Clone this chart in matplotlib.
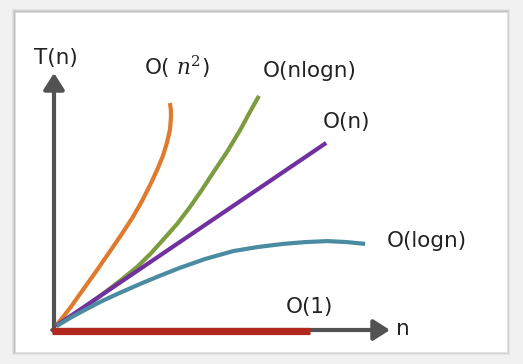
import matplotlib.pyplot as plt
from matplotlib.patches import Rectangle

plt.rcParams["mathtext.fontset"] = "dejavuserif"

# curve points (n on x, T(n) on y, axis arrows end at 10)
n2_x = [0.06, 0.48, 0.86, 1.28, 1.67, 2.02, 2.35, 2.62, 2.86, 3.07, 3.24, 3.36, 3.45, 3.48, 3.48, 3.45]
n2_y = [0.16, 0.86, 1.56, 2.33, 3.07, 3.74, 4.40, 5.02, 5.64, 6.23, 6.77, 7.28, 7.78, 8.25, 8.56, 8.83]

nlogn_x = [0.06, 0.71, 1.37, 1.96, 2.47, 2.89, 3.24, 3.66, 4.05, 4.40, 4.73, 5.15, 5.54, 5.83, 6.10]
nlogn_y = [0.16, 0.70, 1.32, 1.91, 2.45, 2.99, 3.50, 4.12, 4.79, 5.45, 6.11, 6.93, 7.78, 8.48, 9.11]

lin_x = [0.06, 8.10]
lin_y = [0.16, 7.28]

logn_x = [0.09, 0.48, 0.86, 1.37, 1.88, 2.56, 3.15, 3.75, 4.49, 5.33, 6.07, 6.82, 7.47, 8.13, 8.72, 9.26]
logn_y = [0.16, 0.47, 0.74, 1.09, 1.40, 1.79, 2.11, 2.42, 2.76, 3.07, 3.23, 3.35, 3.42, 3.46, 3.42, 3.35]

const_x = [-0.06, 7.62]
const_y = [-0.04, -0.04]

labels = ["T(n)", r"O( $n^2$)", "O(nlogn)", "O(n)", "O(logn)", "O(1)", "n"]
label_x = [0.07, 3.66, 7.60, 8.72, 11.09, 7.59, 10.39]
label_y = [10.35, 9.92, 9.84, 7.86, 3.23, 0.66, -0.19]

fig = plt.figure(figsize=(5.23, 3.64), dpi=100)
fig.patch.set_facecolor("#f1f1f1")

# card with a soft shadow
for i, a in enumerate([0.05, 0.07, 0.09]):
    d = (3 - i) / 523
    fig.patches.append(Rectangle((15 / 523 - d, 12 / 364 - d * 1.4), 492 / 523 + 2 * d,
                                 340 / 364 + 2 * d * 1.4, transform=fig.transFigure,
                                 facecolor="black", alpha=a, edgecolor="none", zorder=-10))
fig.patches.append(Rectangle((15 / 523, 12 / 364), 492 / 523, 340 / 364,
                             transform=fig.transFigure, facecolor="white",
                             edgecolor="#e2e2e2", lw=0.6, zorder=-9))

ax = fig.add_axes([0, 0, 1, 1])
ax.set_xlim(-54 / 33.6, (523 - 54) / 33.6)
ax.set_ylim(-(364 - 330) / 25.7, 330 / 25.7)
ax.axis("off")
ax.patch.set_alpha(0)

axis_col = "#525252"
arrow = dict(arrowstyle="-|>,head_length=0.55,head_width=0.35", lw=3, color=axis_col,
             mutation_scale=18, shrinkA=0, shrinkB=0)
ax.annotate("", xy=(10, 0), xytext=(-0.05, 0), arrowprops=arrow, zorder=1)
ax.annotate("", xy=(0, 10), xytext=(0, -0.05), arrowprops=arrow, zorder=1)

kw = dict(lw=3, solid_capstyle="butt", solid_joinstyle="round", zorder=2)
ax.plot(n2_x, n2_y, color="#e07a2e", **kw)
ax.plot(nlogn_x, nlogn_y, color="#7d9c40", **kw)
ax.plot(lin_x, lin_y, color="#7030a0", **kw)
ax.plot(logn_x, logn_y, color="#4a8ba1", **kw)
ax.plot(const_x, const_y, color="#b2281e", lw=5.2, solid_capstyle="butt", zorder=3)

for t, x, y in zip(labels, label_x, label_y):
    ax.text(x, y, t, ha="center", va="baseline", fontsize=15.5, color="#222222")

fig.savefig("out.png", dpi=100, facecolor=fig.get_facecolor())
